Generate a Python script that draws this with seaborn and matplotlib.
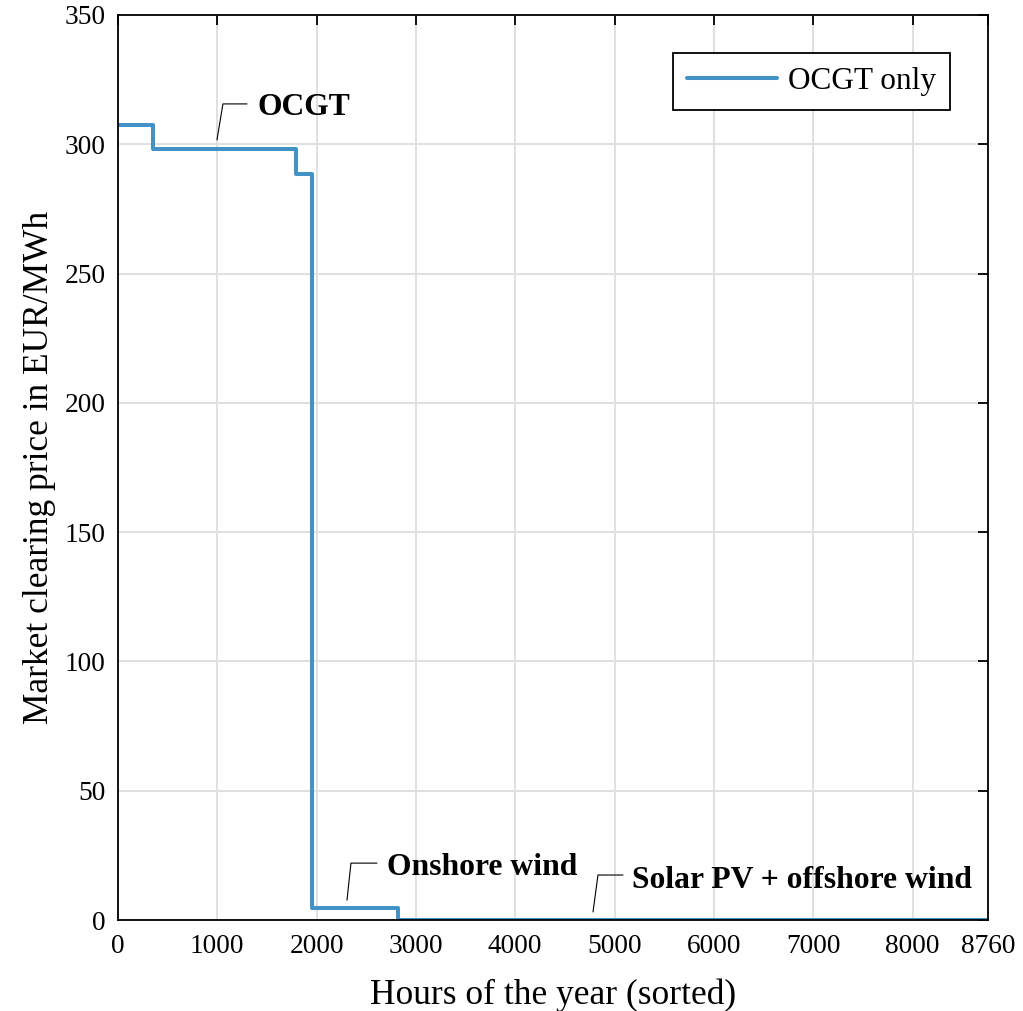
import matplotlib
matplotlib.use("Agg")
import matplotlib.pyplot as plt
import seaborn as sns
import pandas as pd

# Sorted price duration curve (step edges in hours, price in EUR/MWh)
hours = [0, 355, 1790, 1950, 2815, 8760]
price = [307.5, 298.0, 288.5, 4.5, 0.0, 0.0]
series_name = "OCGT only"

x_ticks = [0, 1000, 2000, 3000, 4000, 5000, 6000, 7000, 8000, 8760]
y_ticks = [0, 50, 100, 150, 200, 250, 300, 350]

# Annotations: label, leader-line base, knee, end of horizontal, text anchor
annotations = [
    ("OCGT", (997, 301.7), (1057, 315.6), (1299, 315.6), (1410, 314.4)),
    ("Onshore wind", (2306, 7.7), (2346, 22.0), (2608, 22.0), (2709, 20.3)),
    ("Solar PV + offshore wind", (4783, 3.1), (4833, 17.4), (5085, 17.4), (5176, 15.3)),
]

sns.set_theme(style="white")
plt.rcParams["font.family"] = ["Liberation Serif", "DejaVu Serif"]
plt.rcParams["text.color"] = "black"
plt.rcParams["axes.labelcolor"] = "black"
plt.rcParams["xtick.color"] = "black"
plt.rcParams["ytick.color"] = "black"

df = pd.DataFrame({"hours": hours, "price": price, "series": series_name})

fig = plt.figure(figsize=(10.23, 10.11), dpi=100)
ax = fig.add_axes([0.1153, 0.0900, 0.8505, 0.8952])

sns.lineplot(data=df, x="hours", y="price", hue="series",
             palette=["#4292c6"], drawstyle="steps-post",
             linewidth=2.9, ax=ax)

ax.set_xlim(0, 8760)
ax.set_ylim(0, 350)
ax.set_xticks(x_ticks)
ax.set_xticklabels([str(t) for t in x_ticks])
ax.set_yticks(y_ticks)
ax.set_yticklabels([str(t) for t in y_ticks])

ax.grid(True, color="#e0e0e0", linewidth=1.4)
ax.set_axisbelow(True)
for s in ax.spines.values():
    s.set_color("black")
    s.set_linewidth(1.3)
    s.set_visible(True)
ax.tick_params(direction="in", length=7, width=1.3, colors="black",
               labelcolor="black", top=True, right=True, labelsize=19.7)
ax.tick_params(axis="y", pad=9)
ax.tick_params(axis="x", pad=10)

ax.set_xlabel("Hours of the year (sorted)", fontsize=25.5, labelpad=14, color="black")
ax.set_ylabel("Market clearing price in EUR/MWh", fontsize=25.5, labelpad=6, color="black")

for label, base, knee, end, txt in annotations:
    ax.plot([base[0], knee[0], end[0]], [base[1], knee[1], end[1]],
            color="black", linewidth=0.8)
    ax.text(txt[0], txt[1], label, fontsize=22.8, fontweight="bold",
            ha="left", va="center", color="black")

leg = ax.legend(loc="upper right", fontsize=22.5, frameon=True, fancybox=False,
                framealpha=1, edgecolor="black", handlelength=2.9,
                handletextpad=0.33, borderpad=0.45, borderaxespad=0,
                bbox_to_anchor=(0.956, 0.958))
leg.get_frame().set_linewidth(1.3)
for t in leg.get_texts():
    t.set_color("black")

fig.savefig("out.png", dpi=100)
